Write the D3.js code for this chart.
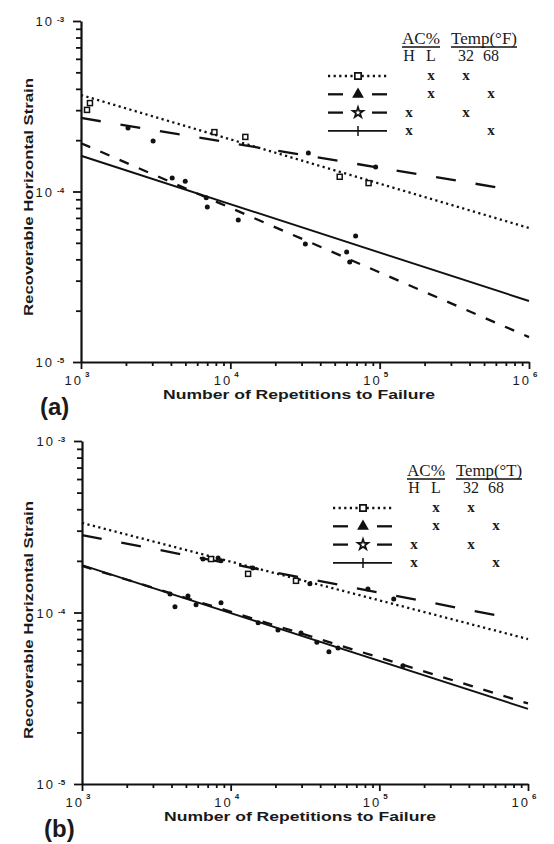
<!DOCTYPE html>
<html>
<head>
<meta charset="utf-8">
<script src="https://cdn.jsdelivr.net/npm/d3@7"></script>
<style>
  body { margin: 0; background: #fff; }
  svg { display: block; }
  text { fill: #1a1a1a; }
</style>
</head>
<body>
<svg id="fig" width="554" height="844"></svg>
<script>
// values (log-log, N vs strain)
var xDecades = [1e3, 1e4, 1e5, 1e6];
var yDecades = [1e-5, 1e-4, 1e-3];
var xExps = ["3", "4", "5", "6"];
var yExps = ["-5", "-4", "-3"];

// series order: square/dotted, triangle/dash, star/long dash, plus/solid
var seriesKeys = ["square", "triangle", "star", "plus"];
var acLevel = ["L", "L", "H", "H"];
var tempF = ["32", "68", "32", "68"];

// fitted lines, [[N, strain], [N, strain]]
var fitA = [
  [[1e3, 3.68e-4], [1e6, 6.11e-5]],
  [[1e3, 1.92e-4], [1e6, 1.40e-5]],
  [[1e3, 2.70e-4], [7.1e5, 1.035e-4]],
  [[1e3, 1.62e-4], [1e6, 2.28e-5]]
];
var fitB = [
  [[1e3, 3.33e-4], [1e6, 7.0e-5]],
  [[1e3, 1.87e-4], [1e6, 2.95e-5]],
  [[1e3, 2.83e-4], [7.0e5, 9.42e-5]],
  [[1e3, 1.89e-4], [1e6, 2.74e-5]]
];

// test points
var pointsA = [
  [[1097, 3.01e-4], [1148, 3.30e-4], [7820, 2.23e-4], [12600, 2.09e-4], [54000, 1.22e-4], [84300, 1.12e-4]],
  [[4080, 1.20e-4], [4990, 1.15e-4], [7010, 8.1e-5], [11300, 6.8e-5], [31800, 4.92e-5], [60100, 4.42e-5], [63000, 3.86e-5]],
  [[2065, 2.36e-4], [3040, 1.98e-4], [33300, 1.68e-4], [94000, 1.39e-4]],
  [[6900, 9.2e-5], [69000, 5.48e-5]]
];
var pointsB = [
  [[7380, 2.05e-4], [13100, 1.68e-4], [27500, 1.53e-4]],
  [[3910, 1.28e-4], [5160, 1.25e-4], [8610, 1.14e-4], [15300, 8.7e-5], [29700, 7.6e-5], [38000, 6.7e-5], [52700, 6.2e-5]],
  [[6510, 2.05e-4], [8230, 2.08e-4], [8610, 2.00e-4], [14100, 1.82e-4], [34100, 1.47e-4], [83800, 1.37e-4], [125000, 1.20e-4]],
  [[4220, 1.08e-4], [5850, 1.11e-4], [20800, 7.9e-5], [45800, 5.9e-5], [144000, 4.9e-5]]
];

var svg = d3.select("#fig");
var sans = "'Liberation Sans', Arial, sans-serif";
var serif = "'Liberation Serif', 'Times New Roman', serif";

// line styles per series
var dash = ["2.2,3.4", "10,11", "20,20", null];
var widths = [2.3, 2.3, 2.3, 1.9];

function minorTicks(decades) {
  var out = [];
  decades.slice(0, -1).forEach(function (d) {
    for (var k = 2; k <= 9; k++) out.push(d * k);
  });
  return out;
}

function drawPanel(p) {
  var x = d3.scaleLog().domain([1e3, 1e6]).range([p.left, p.right]);
  var y = d3.scaleLog().domain([1e-5, 1e-3]).range([p.bottom, p.top]);
  var g = svg.append("g");

  // axes: minor + major ticks
  var ax = g.append("g").attr("transform", "translate(0," + p.bottom + ")");
  ax.call(d3.axisBottom(x).tickValues(minorTicks(xDecades)).tickSize(4).tickSizeOuter(0).tickFormat(""));
  ax.append("g").call(d3.axisBottom(x).tickValues(xDecades).tickSize(7).tickSizeOuter(0).tickFormat(""));
  var ay = g.append("g").attr("transform", "translate(" + p.left + ",0)");
  ay.call(d3.axisLeft(y).tickValues(minorTicks(yDecades)).tickSize(5).tickSizeOuter(0).tickFormat(""));
  ay.append("g").call(d3.axisLeft(y).tickValues(yDecades).tickSize(8).tickSizeOuter(0).tickFormat(""));
  g.selectAll(".domain").attr("stroke", "#111").attr("stroke-width", 2.2);
  g.selectAll(".tick line").attr("stroke", "#111").attr("stroke-width", 1.8);
  g.selectAll("g > g > g > .domain").remove();

  // tick labels 10^n
  xDecades.forEach(function (d, i) {
    g.append("text")
      .attr("x", x(d) + 2).attr("y", p.bottom + 23)
      .attr("text-anchor", "end")
      .style("font-family", sans).style("font-size", "13px").style("letter-spacing", "2px")
      .text("10");
    g.append("text")
      .attr("x", x(d) + 4).attr("y", p.bottom + 15)
      .style("font-family", sans).style("font-size", "8px").style("font-weight", "bold")
      .text(xExps[i]);
  });
  yDecades.forEach(function (d, i) {
    g.append("text")
      .attr("x", p.left - 27).attr("y", y(d) + 5)
      .attr("text-anchor", "end")
      .style("font-family", sans).style("font-size", "13px").style("letter-spacing", "2px")
      .text("10");
    g.append("text")
      .attr("x", p.left - 24).attr("y", y(d) + 1)
      .style("font-family", sans).style("font-size", "8px").style("font-weight", "bold")
      .text(yExps[i]);
  });

  // axis titles
  g.append("text")
    .attr("x", p.left + 82).attr("y", p.bottom + 37)
    .attr("textLength", 272).attr("lengthAdjust", "spacingAndGlyphs")
    .style("font-family", sans).style("font-size", "13px").style("font-weight", "bold")
    .text("Number of Repetitions to Failure");
  g.append("text")
    .attr("transform", "translate(33," + p.ymid + ") rotate(-90)")
    .attr("text-anchor", "middle")
    .attr("textLength", 238).attr("lengthAdjust", "spacingAndGlyphs")
    .style("font-family", sans).style("font-size", "13px").style("font-weight", "bold")
    .text("Recoverable Horizontal Strain");
  g.append("text")
    .attr("x", p.tagX).attr("y", p.bottom + 53)
    .style("font-family", sans).style("font-size", "24px").style("font-weight", "bold")
    .text(p.tag);

  // fitted lines
  var line = d3.line().x(function (d) { return x(d[0]); }).y(function (d) { return y(d[1]); });
  p.fits.forEach(function (f, i) {
    g.append("path")
      .attr("d", line(f))
      .attr("fill", "none")
      .attr("stroke", "#111")
      .attr("stroke-width", widths[i])
      .attr("stroke-dasharray", dash[i]);
  });

  // data points
  p.points.forEach(function (pts, i) {
    if (seriesKeys[i] === "square") {
      g.selectAll(null).data(pts).enter().append("rect")
        .attr("x", function (d) { return x(d[0]) - 2.5; })
        .attr("y", function (d) { return y(d[1]) - 2.5; })
        .attr("width", 5).attr("height", 5)
        .attr("fill", "#fff").attr("stroke", "#111").attr("stroke-width", 1.5);
    } else {
      g.selectAll(null).data(pts).enter().append("circle")
        .attr("cx", function (d) { return x(d[0]); })
        .attr("cy", function (d) { return y(d[1]); })
        .attr("r", 2.5).attr("fill", "#111");
    }
  });

  drawLegend(g, p.lx, p.ly, p.tempLabel);
}

function drawLegend(g, lx, ly, tempLabel) {
  var cols = { H: lx + 81, L: lx + 103, "32": lx + 138, "68": lx + 163 };
  var head = g.append("g").style("font-family", serif).style("font-size", "17px");
  head.append("text").attr("x", lx + 74).attr("y", ly - 32)
    .attr("textLength", 38).attr("lengthAdjust", "spacingAndGlyphs").text("AC%");
  head.append("text").attr("x", lx + 123).attr("y", ly - 32)
    .attr("textLength", 66).attr("lengthAdjust", "spacingAndGlyphs").text(tempLabel);
  g.append("line").attr("x1", lx + 74).attr("x2", lx + 112).attr("y1", ly - 29).attr("y2", ly - 29)
    .attr("stroke", "#111").attr("stroke-width", 1.3);
  g.append("line").attr("x1", lx + 123).attr("x2", lx + 189).attr("y1", ly - 29).attr("y2", ly - 29)
    .attr("stroke", "#111").attr("stroke-width", 1.3);
  var sub = g.append("g").style("font-family", serif).style("font-size", "16px");
  sub.append("text").attr("x", cols.H).attr("y", ly - 15).attr("text-anchor", "middle").text("H");
  sub.append("text").attr("x", cols.L).attr("y", ly - 15).attr("text-anchor", "middle").text("L");
  sub.append("text").attr("x", cols["32"]).attr("y", ly - 15).attr("text-anchor", "middle").text("32");
  sub.append("text").attr("x", cols["68"]).attr("y", ly - 15).attr("text-anchor", "middle").text("68");

  var symbols = [d3.symbolSquare, d3.symbolTriangle, d3.symbolStar, null];
  seriesKeys.forEach(function (k, i) {
    var ry = ly + i * 18.3;
    var mx = lx + 30;
    if (i === 0 || i === 3) {
      g.append("line").attr("x1", lx).attr("x2", lx + 59).attr("y1", ry).attr("y2", ry)
        .attr("stroke", "#111").attr("stroke-width", widths[i]).attr("stroke-dasharray", dash[i]);
    } else {
      g.append("line").attr("x1", lx).attr("x2", lx + 15).attr("y1", ry).attr("y2", ry)
        .attr("stroke", "#111").attr("stroke-width", 2.3);
      g.append("line").attr("x1", lx + 44).attr("x2", lx + 59).attr("y1", ry).attr("y2", ry)
        .attr("stroke", "#111").attr("stroke-width", 2.3);
    }
    if (symbols[i]) {
      g.append("path")
        .attr("d", d3.symbol().type(symbols[i]).size(i === 0 ? 40 : 34)())
        .attr("transform", "translate(" + mx + "," + ry + ")")
        .attr("fill", i === 1 ? "#111" : "#fff")
        .attr("stroke", "#111").attr("stroke-width", 1.7);
    } else {
      g.append("line").attr("x1", mx).attr("x2", mx).attr("y1", ry - 5).attr("y2", ry + 5)
        .attr("stroke", "#111").attr("stroke-width", 1.5);
    }
    [acLevel[i], tempF[i]].forEach(function (c) {
      g.append("text").attr("x", cols[c]).attr("y", ry + 4)
        .attr("text-anchor", "middle")
        .style("font-family", serif).style("font-size", "15px").style("font-weight", "bold")
        .text("x");
    });
  });
}

drawPanel({
  left: 81, right: 529, top: 21, bottom: 362, ymid: 197,
  fits: fitA, points: pointsA, tag: "(a)", tagX: 40,
  lx: 328, ly: 76, tempLabel: "Temp(°F)"
});
drawPanel({
  left: 82, right: 528, top: 441, bottom: 784, ymid: 620,
  fits: fitB, points: pointsB, tag: "(b)", tagX: 44,
  lx: 333, ly: 508, tempLabel: "Temp(°T)"
});
</script>
</body>
</html>
